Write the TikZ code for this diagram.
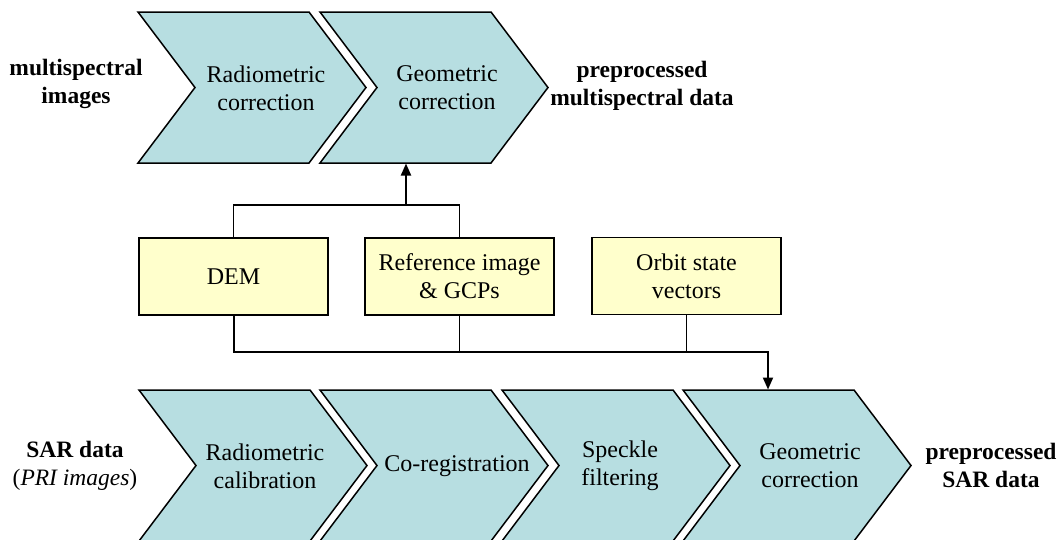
\documentclass[tikz,border=0pt]{standalone}
\usepackage{fontspec}
\setmainfont{Liberation Serif}
\usetikzlibrary{arrows.meta}

\definecolor{stagefill}{RGB}{183,222,225}
\definecolor{inputfill}{RGB}{255,255,204}

\tikzset{
  chevron/.style={fill=stagefill, draw=black, line width=1.5pt, line join=miter},
  stagetext/.style={align=center, font=\fontsize{24}{28}\selectfont, inner sep=0pt},
  labeltext/.style={align=center, font=\fontsize{23.5}{28}\selectfont\bfseries, inner sep=0pt},
  inputbox/.style={draw=black, fill=inputfill, line width=1.5pt, minimum width=189pt,
    minimum height=77pt, align=center, inner sep=0pt, font=\fontsize{24}{28}\selectfont},
  thinlink/.style={draw=black, line width=1.2pt},
  mainlink/.style={draw=black, line width=2pt, -{Triangle[length=12pt,width=10pt]}},
}

% one process stage: left x, top y
\newcommand{\stagechevron}[2]{%
  \filldraw[chevron] (#1,#2) -- ++(171,0) -- ++(57,75.5) -- ++(-57,75.5)
    -- ++(-171,0) -- ++(57,-75.5) -- cycle;}

\begin{document}
\begin{tikzpicture}[x=1pt,y=-1pt]
\useasboundingbox (0,0) rectangle (1060,539);

% multispectral chain
\stagechevron{138}{12}
\stagechevron{320}{12}
\node[stagetext] (rad1) at (266,88) {Radiometric\\correction};
\node[stagetext] (geo1) at (447,88) {Geometric\\correction};
\node[labeltext] (msin) at (76,84) {multispectral\\images};
\node[labeltext] (msout) at (642,86) {preprocessed\\multispectral data};

% SAR chain
\stagechevron{139}{390}
\stagechevron{320}{390}
\stagechevron{502}{390}
\stagechevron{683}{390}
\node[stagetext] (rad2) at (265,466) {Radiometric\\calibration};
\node[stagetext] (coreg) at (457,466) {Co-registration};
\node[stagetext] (speckle) at (620,466) {Speckle\\filtering};
\node[stagetext] (geo2) at (810,466) {Geometric\\correction};
\node[labeltext] (sarin) at (75,466) {SAR data\\\textnormal{(\textit{PRI images})}};
\node[labeltext] (sarout) at (991,465) {preprocessed\\SAR data};

% auxiliary inputs
\node[inputbox] (dem) at (233.5,276.5) {DEM};
\node[inputbox] (ref) at (459.5,276.5) {Reference image\\\& GCPs};
\node[inputbox] (orbit) at (686.5,276) {Orbit state\\vectors};

% junctions and entry points
\coordinate (jtop) at (406,205);
\coordinate (geo1in) at (406,163.5);
\coordinate (jbot) at (768,352);
\coordinate (geo2in) at (768,389.5);

% links to the multispectral geometric correction
\draw[thinlink] (dem.north) |- (jtop) -| (ref.north);
\draw[mainlink] (jtop) -- (geo1in);

% links to the SAR geometric correction
\draw[thinlink] (ref.south) -- (ref.south |- jbot);
\draw[thinlink] (orbit.south) -- (orbit.south |- jbot);
\draw[mainlink] (dem.south) |- (jbot) -- (geo2in);
\end{tikzpicture}
\end{document}
